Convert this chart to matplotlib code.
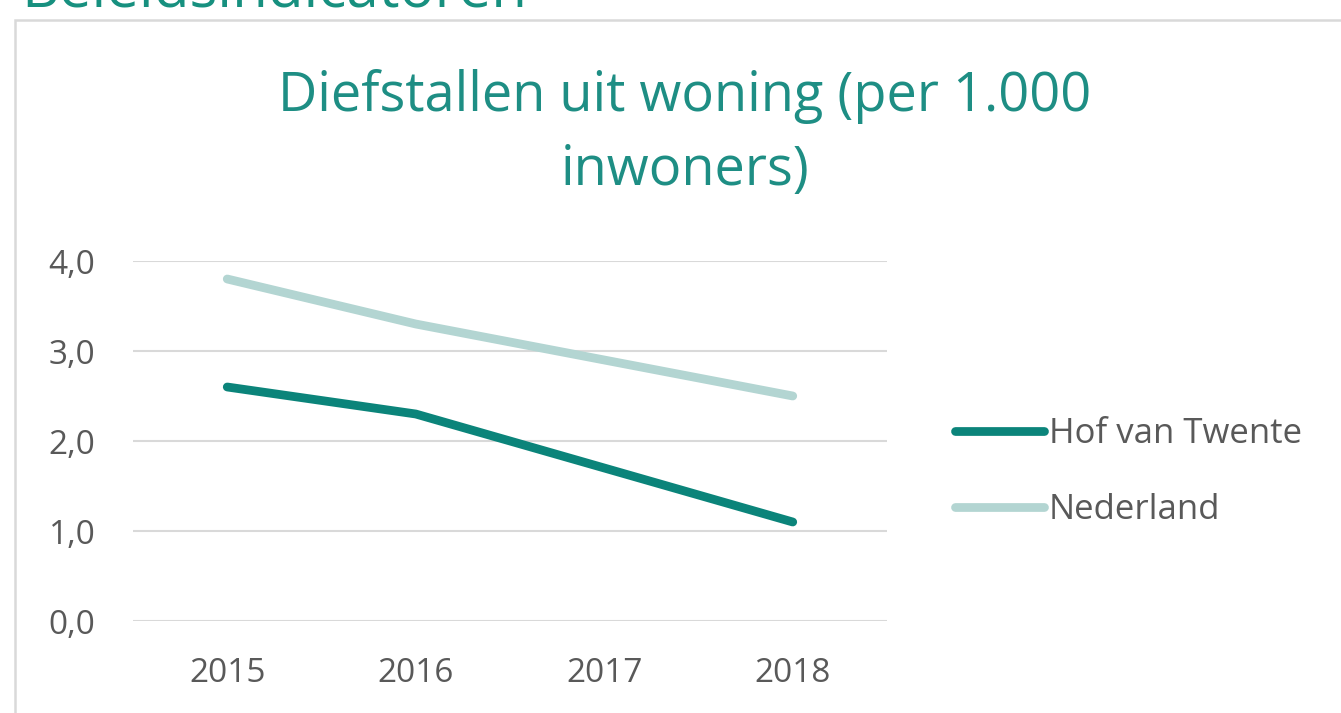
import matplotlib
matplotlib.use("Agg")
import matplotlib.pyplot as plt
from matplotlib.patches import Rectangle

years = ["2015", "2016", "2017", "2018"]
hof_van_twente = [2.6, 2.3, 1.7, 1.1]
nederland = [3.8, 3.3, 2.9, 2.5]
y_ticks = [0.0, 1.0, 2.0, 3.0, 4.0]
y_tick_labels = ["0,0", "1,0", "2,0", "3,0", "4,0"]
series_names = ["Hof van Twente", "Nederland"]
title_lines = ["Diefstallen uit woning (per 1.000", "inwoners)"]
header = "Beleidsindicatoren"

plt.rcParams['font.family'] = ['Open Sans', 'DejaVu Sans']

W, H = 1341, 713
fig = plt.figure(figsize=(W / 100, H / 100), dpi=100)
fig.patch.set_facecolor("white")

# chart box
box = Rectangle((15 / W, -0.05), 1.1, 1 - 20 / H + 0.05, transform=fig.transFigure,
                facecolor="white", edgecolor="#D9D9D9", linewidth=1.8, zorder=-10)
fig.patches.append(box)

fig.text(21 / W, 1 - 8 / H, header, color="#17907F", fontsize=42,
         ha="left", va="baseline")

fig.text(685 / W, 1 - 97 / H, title_lines[0], color="#1E8E84",
         fontsize=39, ha="center", va="center")
fig.text(685 / W, 1 - 170 / H, title_lines[1], color="#1E8E84",
         fontsize=39, ha="center", va="center")

ax = fig.add_axes([133 / W, 1 - 621 / H, (887 - 133) / W, (621 - 261) / H], zorder=2)
ax.set_facecolor("none")
x = range(len(years))
l1, = ax.plot(x, hof_van_twente, color="#0B847A", linewidth=6.3, solid_capstyle="round",
              label=series_names[0], zorder=3)
l2, = ax.plot(x, nederland, color="#B3D5D2", linewidth=6.3, solid_capstyle="round",
              label=series_names[1], zorder=3)
ax.set_xlim(-0.5, len(years) - 0.5)
ax.set_ylim(0, 4)
ax.set_yticks(y_ticks)
ax.set_yticklabels(y_tick_labels)
ax.set_xticks(list(x))
ax.set_xticklabels(years)
ax.grid(axis="y", color="#D9D9D9", linewidth=1.5)
ax.set_axisbelow(True)
for s in ax.spines.values():
    s.set_visible(False)
ax.tick_params(axis="both", length=0, labelsize=24, colors="#595959")
ax.tick_params(axis="y", pad=27)
ax.tick_params(axis="x", pad=26)

leg = fig.legend(handles=[l1, l2], labels=series_names, loc="center left",
                 bbox_to_anchor=(955 / W, 1 - 472 / H), frameon=False,
                 fontsize=25, handlelength=2.55, handletextpad=0.15,
                 labelspacing=1.2, borderaxespad=0, borderpad=0)
for t in leg.get_texts():
    t.set_color("#595959")

fig.savefig("out.png", dpi=100, facecolor="white")
